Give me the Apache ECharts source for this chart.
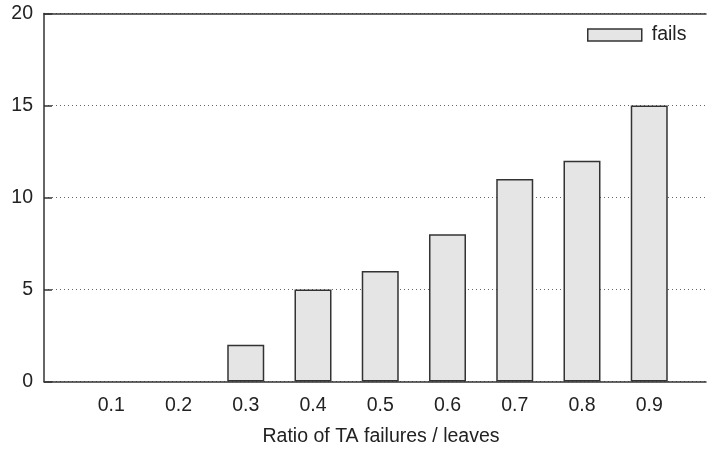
<!DOCTYPE html>
<html>
<head>
<meta charset="utf-8">
<script src="https://cdn.jsdelivr.net/npm/echarts@6/dist/echarts.min.js"></script>
<style>html,body{margin:0;padding:0;background:#fff;}#c{width:707px;height:450px;}</style>
</head>
<body>
<div id="c"></div>
<script>
const categories = [0.1, 0.2, 0.3, 0.4, 0.5, 0.6, 0.7, 0.8, 0.9];
const fails = [0, 0, 2, 5, 6, 8, 11, 12, 15];
const xTickLabels = ['0.1','0.2','0.3','0.4','0.5','0.6','0.7','0.8','0.9'];
const yTicks = [0, 5, 10, 15, 20];
const xTitle = 'Ratio of TA failures / leaves';
const seriesName = 'fails';

const font = 'Liberation Sans, Arial, sans-serif';
const fs = 19.5;
const chart = echarts.init(document.getElementById('c'), null, {renderer: 'canvas'});
chart.setOption({
  animation: false,
  backgroundColor: '#fff',
  grid: {left: 44, right: 1, top: 13.5, bottom: 68.5, containLabel: false},
  legend: {
    data: [seriesName], left: 587, top: 25, padding: 0, itemWidth: 54, itemHeight: 12,
    icon: 'rect',
    itemStyle: {color: '#e5e5e5', borderColor: '#333', borderWidth: 1.5},
    textStyle: {fontFamily: font, fontSize: fs, color: '#222', padding: [0,0,0,5]}
  },
  xAxis: [{
    type: 'value', min: 0, max: 0.9844, interval: 0.1, z: 5,
    axisLine: {show: true, lineStyle: {color: '#333', width: 1.5}},
    axisTick: {show: false}, splitLine: {show: false},
    axisLabel: {
      fontFamily: font, fontSize: fs, color: '#222', margin: 14.5,
      showMaxLabel: false, showMinLabel: false,
      formatter: v => { const i = categories.findIndex(c => Math.abs(c - v) < 1e-6); return i >= 0 ? xTickLabels[i] : ''; }
    }
  }, {
    type: 'value', position: 'top', min: 0, max: 0.9844,
    axisLine: {show: true, lineStyle: {color: '#333', width: 1.5}},
    axisTick: {show: false}, axisLabel: {show: false}, splitLine: {show: false}
  }],
  yAxis: {
    type: 'value', min: yTicks[0], max: yTicks[yTicks.length-1], interval: 5,
    axisLine: {show: true, lineStyle: {color: '#333', width: 1.5}},
    axisTick: {show: true, inside: true, length: 8, lineStyle: {color: '#333', width: 1.5}},
    splitLine: {show: true, lineStyle: {color: '#666', type: [1, 3], width: 1}},
    axisLabel: {fontFamily: font, fontSize: fs, color: '#222', margin: 11}
  },
  graphic: [{
    type: 'text', x: 381, y: 437,
    style: {text: xTitle, font: fs + 'px ' + font, fill: '#222', textAlign: 'center', textVerticalAlign: 'middle'}
  }],
  series: [{
    name: seriesName, type: 'bar', xAxisIndex: 0, barWidth: 37, z: 2,
    data: categories.map((c, i) => ({
      value: [c, fails[i]],
      itemStyle: {borderWidth: fails[i] === 0 ? 0 : 1.5}
    })),
    itemStyle: {color: '#e5e5e5', borderColor: '#333', borderWidth: 1.5}
  }]
});
</script>
</body>
</html>
